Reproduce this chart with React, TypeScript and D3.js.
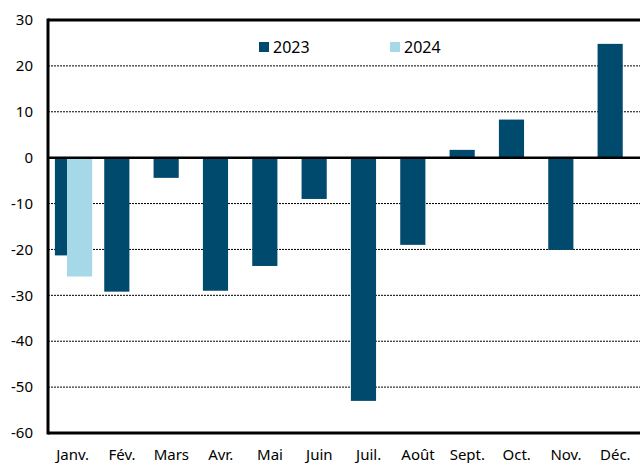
import React from "react";
import * as d3 from "d3";

const months = ["Janv.", "Fév.", "Mars", "Avr.", "Mai", "Juin", "Juil.", "Août", "Sept.", "Oct.", "Nov.", "Déc."];
const values2023 = [-21.3, -29.2, -4.4, -29, -23.6, -9, -53, -19, 1.7, 8.3, -20.1, 24.8];
const values2024 = [-25.9];
const yTicks = [30, 20, 10, 0, -10, -20, -30, -40, -50, -60];

const W = 640;
const H = 463;
const margin = { top: 20, right: 0, bottom: 30, left: 48 };
const font = "'Noto Sans', Lato, sans-serif";

export default function App() {
  const x = d3
    .scaleBand<string>()
    .domain(months)
    .range([margin.left, W - margin.right]);
  const y = d3
    .scaleLinear()
    .domain([-60, 30])
    .range([H - margin.bottom, margin.top]);

  const bw = x.bandwidth();
  const barW = bw * 0.51;
  const off23 = bw * 0.14;
  const off24 = bw * 0.385;

  return (
    <svg
      width={W}
      height={H}
      style={{ position: "absolute", left: 0, top: 0, background: "#fff" }}
    >
      {/* grid */}
      {yTicks
        .filter((t) => t !== 30 && t !== -60 && t !== 0)
        .map((t) => (
          <line
            key={t}
            x1={margin.left}
            x2={W}
            y1={y(t)}
            y2={y(t)}
            stroke="#000"
            strokeWidth={1}
            strokeDasharray="2,1"
          />
        ))}

      {/* bars 2023 */}
      {values2023.map((v, i) => (
        <rect
          key={"a" + i}
          x={(x(months[i]) as number) + off23}
          y={y(Math.max(0, v))}
          width={barW}
          height={Math.abs(y(v) - y(0))}
          fill="#004a6e"
        />
      ))}
      {/* bars 2024 */}
      {values2024.map((v, i) => (
        <rect
          key={"b" + i}
          x={(x(months[i]) as number) + off24}
          y={y(Math.max(0, v))}
          width={barW}
          height={Math.abs(y(v) - y(0))}
          fill="#a5d9e8"
        />
      ))}

      {/* zero line */}
      <line x1={margin.left} x2={W} y1={y(0)} y2={y(0)} stroke="#000" strokeWidth={2.5} />
      {/* frame */}
      <line x1={margin.left} x2={W} y1={y(30)} y2={y(30)} stroke="#000" strokeWidth={3} />
      <line x1={margin.left} x2={W} y1={y(-60)} y2={y(-60)} stroke="#000" strokeWidth={3} />
      <line
        x1={margin.left}
        x2={margin.left}
        y1={y(30) - 1.5}
        y2={y(-60) + 1.5}
        stroke="#000"
        strokeWidth={3}
      />

      {/* y tick labels */}
      {yTicks.map((t) => (
        <text
          key={t}
          x={33}
          y={y(t)}
          dy="0.35em"
          textAnchor="end"
          fontFamily={font}
          fontSize={15}
          fill="#000"
        >
          {t}
        </text>
      ))}

      {/* x labels */}
      {months.map((m) => (
        <text
          key={m}
          x={(x(m) as number) + bw / 2}
          y={460}
          textAnchor="middle"
          fontFamily={font}
          fontSize={15}
          fill="#000"
        >
          {m}
        </text>
      ))}

      {/* legend */}
      <rect x={259} y={42} width={10} height={10} fill="#004a6e" />
      <text x={273} y={52.5} fontFamily={font} fontSize={16} fill="#000">
        2023
      </text>
      <rect x={390} y={42} width={10} height={10} fill="#a5d9e8" />
      <text x={404} y={52.5} fontFamily={font} fontSize={16} fill="#000">
        2024
      </text>
    </svg>
  );
}
